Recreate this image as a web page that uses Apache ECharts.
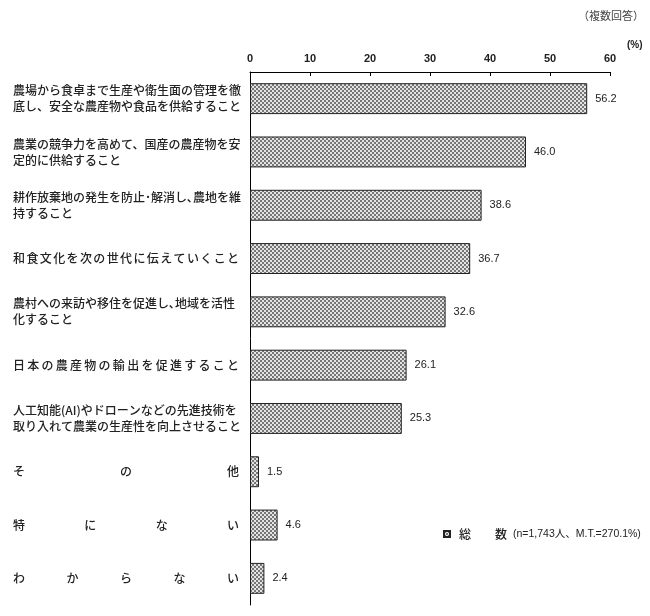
<!DOCTYPE html>
<html><head><meta charset="utf-8">
<script src="https://cdn.jsdelivr.net/npm/echarts@6/dist/echarts.min.js"></script>
<style>html,body{margin:0;padding:0;background:#fff}#c{width:650px;height:616px}</style>
</head><body><div id="c"></div>
<script>
var categories = [
  "農場から食卓まで生産や衛生面の管理を徹\n底し、安全な農産物や食品を供給すること",
  "農業の競争力を高めて、国産の農産物を安\n定的に供給すること",
  "耕作放棄地の発生を防止･解消し､農地を維\n持すること",
  "J:和食文化を次の世代に伝えていくこと",
  "農村への来訪や移住を促進し､地域を活性\n化すること",
  "J:日本の農産物の輸出を促進すること",
  "人工知能(AI)やドローンなどの先進技術を\n取り入れて農業の生産性を向上させること",
  "J:その他",
  "J:特にない",
  "J:わからない"
];
var values = [56.2, 46.0, 38.6, 36.7, 32.6, 26.1, 25.3, 1.5, 4.6, 2.4];
var xTicks = [0, 10, 20, 30, 40, 50, 60];
var seriesName = "総　　数";
var seriesNote = "(n=1,743人、M.T.=270.1%)";

var FONT = '"Noto Sans CJK JP", sans-serif';
var LABEL_W = 226, CH = 12;

// checker pattern (2px cells)
var pc = document.createElement('canvas');
pc.width = 4; pc.height = 4;
var px = pc.getContext('2d');
px.fillStyle = '#e4e4e4'; px.fillRect(0,0,4,4);
px.fillStyle = '#767676'; px.fillRect(0,0,2,2); px.fillRect(2,2,2,2);
var pattern = {image: pc, repeat: 'repeat'};

var rich = {};
[3,4,5,16,17].forEach(function(n){
  rich['g'+n] = {width: (LABEL_W - n*CH)/(n-1), fontSize: CH, fontFamily: FONT};
});
rich.c = {fontSize: CH, fontFamily: FONT, color: '#222', fontWeight: 500};

function fmt(v){
  if (v.indexOf('J:') === 0) {
    var chars = v.slice(2).split('');
    var n = chars.length;
    return chars.map(function(ch){return '{c|'+ch+'}';}).join('{g'+n+'| }');
  }
  return v;
}

var chart = echarts.init(document.getElementById('c'));
chart.setOption({
  animation: false,
  backgroundColor: '#fff',
  grid: {left: 250, top: 72, right: 40, bottom: 11, containLabel: false},
  xAxis: {
    type: 'value', position: 'top', min: 0, max: 60, interval: 10,
    axisLine: {show: true, lineStyle: {color: '#000', width: 1}},
    axisTick: {show: true, inside: true, length: 4, lineStyle: {color: '#000'}},
    splitLine: {show: false},
    axisLabel: {margin: 8, fontSize: 11, color: '#222', fontWeight: 'bold',
      fontFamily: '"Liberation Sans Narrow","Liberation Sans",sans-serif',
      formatter: function(v){ return xTicks.indexOf(v) >= 0 ? String(v) : ''; }}
  },
  yAxis: {
    type: 'category', inverse: true, data: categories,
    axisLine: {show: true, lineStyle: {color: '#000', width: 1}},
    axisTick: {show: false},
    axisLabel: {align: 'left', margin: 237, fontSize: 12, lineHeight: 16, color: '#222',
      fontWeight: 500, fontFamily: FONT, formatter: fmt, rich: rich}
  },
  legend: {
    left: 438, top: 523, itemWidth: 6, itemHeight: 6, icon: 'rect',
    data: [seriesName],
    formatter: function(){ return '{a|' + seriesName + '}{b|' + seriesNote + '}'; },
    textStyle: {rich: {
      a: {fontSize: 12, fontFamily: FONT, color: '#222', fontWeight: 500, padding: [0, 6, 0, 4]},
      b: {fontSize: 10.5, fontFamily: '"Liberation Sans Narrow","Liberation Sans",' + FONT, color: '#222'}
    }}
  },
  series: [{
    name: seriesName, type: 'bar', data: values, barWidth: '58%',
    itemStyle: {color: pattern, borderColor: '#222', borderWidth: 1},
    label: {show: true, position: 'right', distance: 8, fontSize: 11, color: '#222',
      fontFamily: '"Liberation Sans Narrow","Liberation Sans",sans-serif',
      formatter: function(p){ return p.value.toFixed(1); }}
  }],
  graphic: [
    {type: 'text', right: 6, top: 10, style: {text: '（複数回答）', fontSize: 11, fontFamily: FONT, fill: '#444'}},
    {type: 'text', left: 627, top: 40, style: {text: '(%)', fontSize: 10, fontFamily: '"Liberation Sans",sans-serif', fontWeight: 'bold', fill: '#222'}}
  ]
});
</script></body></html>
